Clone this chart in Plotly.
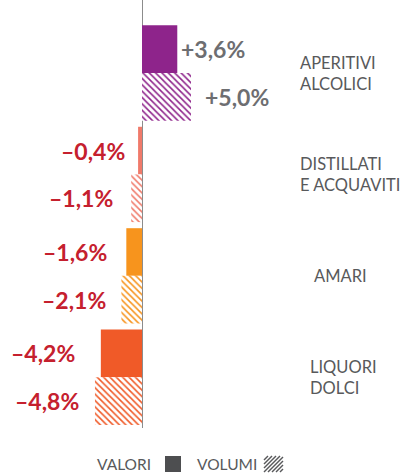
import plotly.graph_objects as go

# ---- data ----
categories = ["APERITIVI<br>ALCOLICI", "DISTILLATI<br>E ACQUAVITI", "AMARI", "LIQUORI<br>DOLCI"]
valori = [3.6, -0.4, -1.6, -4.2]
volumi = [5.0, -1.1, -2.1, -4.8]
legend_labels = ["VALORI", "VOLUMI"]

# ---- style ----
W, H = 417, 473
PLOT_H = 428          # px height of plot area (bottom margin holds legend)
ZERO_PX = 142         # px position of zero line
PX_PER_UNIT = 9.8
colors = ["#8E248B", "#F07A6A", "#F7941D", "#F05A28"]
grey_txt = "#6D6E71"
red_txt = "#C5202E"
cat_txt = "#58595B"
FONT = "Lato"

def fmt(v):
    s = f"{v:+.1f}".replace(".", ",")
    s = s.replace("-", "\u2013")
    return s + "%"

ys = list(range(len(categories)))
fig = go.Figure()
fig.add_trace(go.Bar(
    y=ys, x=valori, orientation="h", name=legend_labels[0],
    marker=dict(color=colors, line=dict(width=0)),
    showlegend=False, hoverinfo="skip"))
fig.add_trace(go.Bar(
    y=ys, x=volumi, orientation="h", name=legend_labels[1],
    marker=dict(color="white", line=dict(width=0),
                pattern=dict(shape="\\", fgcolor=colors, bgcolor="white",
                             fillmode="replace", size=4.5, solidity=0.35)),
    showlegend=False, hoverinfo="skip"))

x_lo = -ZERO_PX / PX_PER_UNIT
x_hi = (W - ZERO_PX) / PX_PER_UNIT

annotations = []
# value labels (manual nudges to mimic the original placement)
nudge_val = [2, -11, -17, -24]
nudge_vol = [12, -16, -13, -14]
for i in ys:
    for v, dy, nd in ((valori[i], -0.235, nudge_val[i]), (volumi[i], 0.235, nudge_vol[i])):
        annotations.append(dict(
            x=v, y=i + dy, xref="x", yref="y", text=f"<b>{fmt(v)}</b>",
            showarrow=False, xanchor="left" if v > 0 else "right", yanchor="middle",
            xshift=nd, font=dict(family=FONT, size=23, color=grey_txt if v > 0 else red_txt)))

# category labels on the right
cat_left_px = [298, 298, 312, 308]
for i, c in enumerate(categories):
    annotations.append(dict(
        x=cat_left_px[i] / W, y=i, xref="paper", yref="y", text=c, showarrow=False,
        xanchor="left", yanchor="middle", align="left",
        font=dict(family=FONT, size=16.5, color=cat_txt)))

def py(p):  # pixel y -> paper y
    return (PLOT_H - p) / PLOT_H

# legend texts
annotations.append(dict(x=153 / W, y=py(464), xref="paper", yref="paper", text=legend_labels[0],
                        showarrow=False, xanchor="right", yanchor="middle",
                        font=dict(family=FONT, size=15.5, color=cat_txt)))
annotations.append(dict(x=195 / W, y=py(464), xref="paper", yref="paper", text=legend_labels[1],
                        showarrow=False, xanchor="left", yanchor="middle",
                        font=dict(family=FONT, size=15.5, color=cat_txt)))

shapes = []
# filled legend square
shapes.append(dict(type="rect", xref="paper", yref="paper",
                   x0=165 / W, x1=181 / W, y0=py(472), y1=py(456),
                   fillcolor="#4D4E50", line=dict(width=0)))
# hatched legend icon
bx0, bx1, by0, by1 = 264, 283, 456, 472
h = by1 - by0
c = bx0 - h
while c < bx1:
    t0 = max(0, bx0 - c)
    t1 = min(h, bx1 - c)
    if t1 > t0:
        shapes.append(dict(type="line", xref="paper", yref="paper",
                           x0=(c + t0) / W, y0=py(by1 - t0),
                           x1=(c + t1) / W, y1=py(by1 - t1),
                           line=dict(color="#58595B", width=1.5)))
    c += 4

fig.update_layout(
    width=W, height=H,
    margin=dict(l=0, r=0, t=0, b=H - PLOT_H, pad=0),
    paper_bgcolor="white", plot_bgcolor="white",
    barmode="group", bargap=0.06, bargroupgap=0,
    xaxis=dict(range=[x_lo, x_hi], showgrid=False, showticklabels=False, ticks="",
               zeroline=True, zerolinecolor="#8C8C8C", zerolinewidth=1, fixedrange=True),
    yaxis=dict(range=[3.5, -0.72], showgrid=False, showticklabels=False, ticks="",
               zeroline=False, fixedrange=True),
    annotations=annotations, shapes=shapes, showlegend=False,
)

fig.write_html("out.html", config={"displayModeBar": False},
               post_script="document.body.style.margin='0';document.body.style.overflow='hidden';")
